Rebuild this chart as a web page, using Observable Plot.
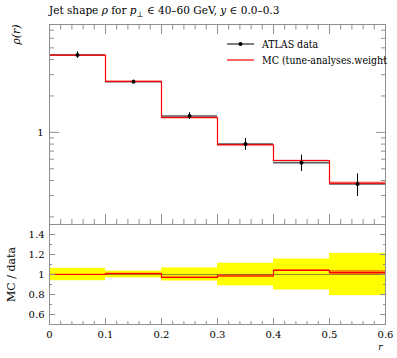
<!DOCTYPE html>
<html><head><meta charset="utf-8">
<script src="https://cdn.jsdelivr.net/npm/d3@7"></script>
<script src="https://cdn.jsdelivr.net/npm/@observablehq/plot@0.6"></script>
<style>
body{margin:0;background:#fff;}
#c{position:relative;width:397px;height:358px;overflow:hidden;font-family:"DejaVu Serif","Liberation Serif",serif;color:#000;background:#fff;}
#title{position:absolute;left:49px;top:4px;font-size:10.5px;white-space:nowrap;}
#c svg.plot{position:absolute;left:0;}
.leg{position:absolute;left:227px;height:12px;display:flex;align-items:center;font-size:10.5px;white-space:nowrap;font-family:"DejaVu Serif Condensed","DejaVu Serif",serif;font-stretch:condensed;}
.leg span{margin-left:8px;}
</style></head><body>
<div id="c">
  <div id="title">Jet shape <i>ρ</i> for <i>p</i><sub style="font-size:7.5px">⊥</sub> ∈ 40–60 GeV, <i>y</i> ∈ 0.0–0.3</div>
</div>
<script>
// ---- data ----
const binLow  = [0.0, 0.1, 0.2, 0.3, 0.4, 0.5];
const binHigh = [0.1, 0.2, 0.3, 0.4, 0.5, 0.6];
const binMid  = [0.05, 0.15, 0.25, 0.35, 0.45, 0.55];
const dataVal = [4.36, 2.62, 1.366, 0.800, 0.562, 0.374];
const dataErr = [0.27, 0.087, 0.089, 0.090, 0.087, 0.079];
const mcVal   = [4.36, 2.645, 1.325, 0.788, 0.585, 0.381];
const mcErr   = [0.017, 0.013, 0.016, 0.009, 0.005, 0.008];
const legendLabels = ["ATLAS data", "MC (tune-analyses.weight"];
const xTickLabels = [0, 0.1, 0.2, 0.3, 0.4, 0.5, 0.6];
const yTopMajor = [1];
const yTopMinor = [0.2, 0.3, 0.4, 0.5, 0.6, 0.7, 0.8, 0.9, 2, 3, 4, 5, 6, 7];
const yRatioMajor = [0.6, 0.8, 1, 1.2, 1.4];
const yRatioMinor = [0.7, 0.9, 1.1, 1.3];
const xMinor = [0.02,0.04,0.06,0.08,0.12,0.14,0.16,0.18,0.22,0.24,0.26,0.28,0.32,0.34,0.36,0.38,0.42,0.44,0.46,0.48,0.52,0.54,0.56,0.58];

const bins = binLow.map((x1, i) => ({
  x1, x2: binHigh[i], xm: binMid[i],
  d: dataVal[i], de: dataErr[i], m: mcVal[i], me: mcErr[i]
}));
const steps = [...binLow.map((x, i) => ({x, y: mcVal[i], r: mcVal[i] / dataVal[i]})),
  {x: binHigh[binHigh.length - 1], y: mcVal[mcVal.length - 1], r: mcVal[mcVal.length - 1] / dataVal[dataVal.length - 1]}];

const gray = "#8f8f8f";
const font = "'DejaVu Serif', 'Liberation Serif', serif";
const W = 397, ML = 49, MR = 12;

function tickAxesX(anchor, major, minor, bigLen, smallLen) {
  return [
    Plot.axisX(major, {anchor, tickSize: -bigLen, stroke: gray, fill: "none", label: null}),
    Plot.axisX(minor, {anchor, tickSize: -smallLen, stroke: gray, fill: "none", label: null})
  ];
}
function tickAxesY(anchor, major, minor, bigLen, smallLen) {
  return [
    Plot.axisY(major, {anchor, tickSize: -bigLen, stroke: gray, fill: "none", label: null}),
    Plot.axisY(minor, {anchor, tickSize: -smallLen, stroke: gray, fill: "none", label: null})
  ];
}

const topPlot = Plot.plot({
  width: W, height: 224,
  marginTop: 24, marginBottom: 0, marginLeft: ML, marginRight: MR,
  x: {domain: [0, 0.6], axis: null},
  y: {type: "log", domain: [0.173, 7.8], axis: null},
  style: {fontFamily: font, fontSize: "10px", background: "transparent", overflow: "visible", color: "#000"},
  marks: [
    Plot.rect(bins, {x1: "x1", x2: "x2", y1: d => d.m - d.me, y2: d => d.m + d.me, fill: "red", fillOpacity: 0.35}),
    Plot.ruleY(bins, {x1: "x1", x2: "x2", y: "d", stroke: "#222", strokeOpacity: 0.75, strokeWidth: 1.6}),
    Plot.line(steps, {x: "x", y: "y", curve: "step-after", stroke: "red", strokeWidth: 1.2}),
    Plot.ruleX(bins, {x: "xm", y1: d => d.d - d.de, y2: d => d.d + d.de, stroke: "#000", strokeWidth: 1}),
    Plot.dot(bins, {x: "xm", y: "d", r: 2, fill: "#000", stroke: "none"}),
    ...tickAxesX("top", xTickLabels, xMinor, 9, 4.5),
    ...tickAxesX("bottom", xTickLabels, xMinor, 10, 5),
    ...tickAxesY("left", yTopMajor, yTopMinor, 10, 5),
    ...tickAxesY("right", yTopMajor, yTopMinor, 10, 5),
    Plot.axisY(yTopMajor, {anchor: "left", tickSize: 0, tickPadding: 6, tickFormat: d => String(d), label: null, fontSize: 10}),
    Plot.text(["ρ(r)"], {frameAnchor: "top-left", rotate: -90, dx: -37, textAnchor: "end", fontStyle: "italic", fontSize: 11}),
    Plot.frame({stroke: gray})
  ]
});
topPlot.style.top = "0px";

const ratioPlot = Plot.plot({
  width: W, height: 134,
  marginTop: 0, marginBottom: 34, marginLeft: ML, marginRight: MR,
  x: {domain: [0, 0.6], axis: null},
  y: {domain: [0.5, 1.5], axis: null},
  style: {fontFamily: font, fontSize: "10px", background: "transparent", overflow: "visible", color: "#000"},
  marks: [
    Plot.rect(bins, {x1: "x1", x2: "x2", y1: d => 1 - d.de / d.d, y2: d => 1 + d.de / d.d, fill: "#ffff00"}),
    Plot.ruleY(bins, {x1: "x1", x2: "x2", y: () => 1, stroke: "#444", strokeOpacity: 0.6, strokeWidth: 1}),
    Plot.rect(bins, {x1: "x1", x2: "x2", y1: d => (d.m - d.me) / d.d, y2: d => (d.m + d.me) / d.d, fill: "red", fillOpacity: 0.45}),
    Plot.line(steps, {x: "x", y: "r", curve: "step-after", stroke: "red", strokeWidth: 1.2}),
    ...tickAxesX("bottom", xTickLabels, xMinor, 6, 3),
    ...tickAxesY("left", yRatioMajor, yRatioMinor, 6, 3),
    ...tickAxesY("right", yRatioMajor, yRatioMinor, 6, 3),
    Plot.axisX(xTickLabels, {anchor: "bottom", tickSize: 0, tickPadding: 6, tickFormat: d => String(d), label: null, fontSize: 10}),
    Plot.axisY(yRatioMajor, {anchor: "left", tickSize: 0, tickPadding: 5, tickFormat: d => String(d), label: null, fontSize: 10}),
    Plot.text(["MC / data"], {frameAnchor: "left", rotate: -90, dx: -38, textAnchor: "middle", fontSize: 11}),
    Plot.text(["r"], {frameAnchor: "bottom-right", dy: 25, dx: -3, textAnchor: "end", fontStyle: "italic", fontSize: 9}),
    Plot.frame({stroke: gray})
  ]
});
ratioPlot.style.top = "224px";

const c = document.getElementById("c");
c.appendChild(topPlot);
c.appendChild(ratioPlot);

// legend
const legColors = ["#000", "red"];
const legTops = [38, 54];
legendLabels.forEach((lab, i) => {
  const row = document.createElement("div");
  row.className = "leg";
  row.style.top = legTops[i] + "px";
  const ns = "http://www.w3.org/2000/svg";
  const s = document.createElementNS(ns, "svg");
  s.setAttribute("width", 27); s.setAttribute("height", 12);
  const ln = document.createElementNS(ns, "line");
  ln.setAttribute("x1", 0); ln.setAttribute("x2", 27); ln.setAttribute("y1", 6); ln.setAttribute("y2", 6);
  ln.setAttribute("stroke", legColors[i]); ln.setAttribute("stroke-width", i === 0 ? 1 : 1.2);
  s.appendChild(ln);
  if (i === 0) {
    const ci = document.createElementNS(ns, "circle");
    ci.setAttribute("cx", 13.5); ci.setAttribute("cy", 6); ci.setAttribute("r", 2); ci.setAttribute("fill", "#000");
    s.appendChild(ci);
  }
  row.appendChild(s);
  const sp = document.createElement("span");
  sp.textContent = lab;
  row.appendChild(sp);
  c.appendChild(row);
});
</script>
</body></html>
